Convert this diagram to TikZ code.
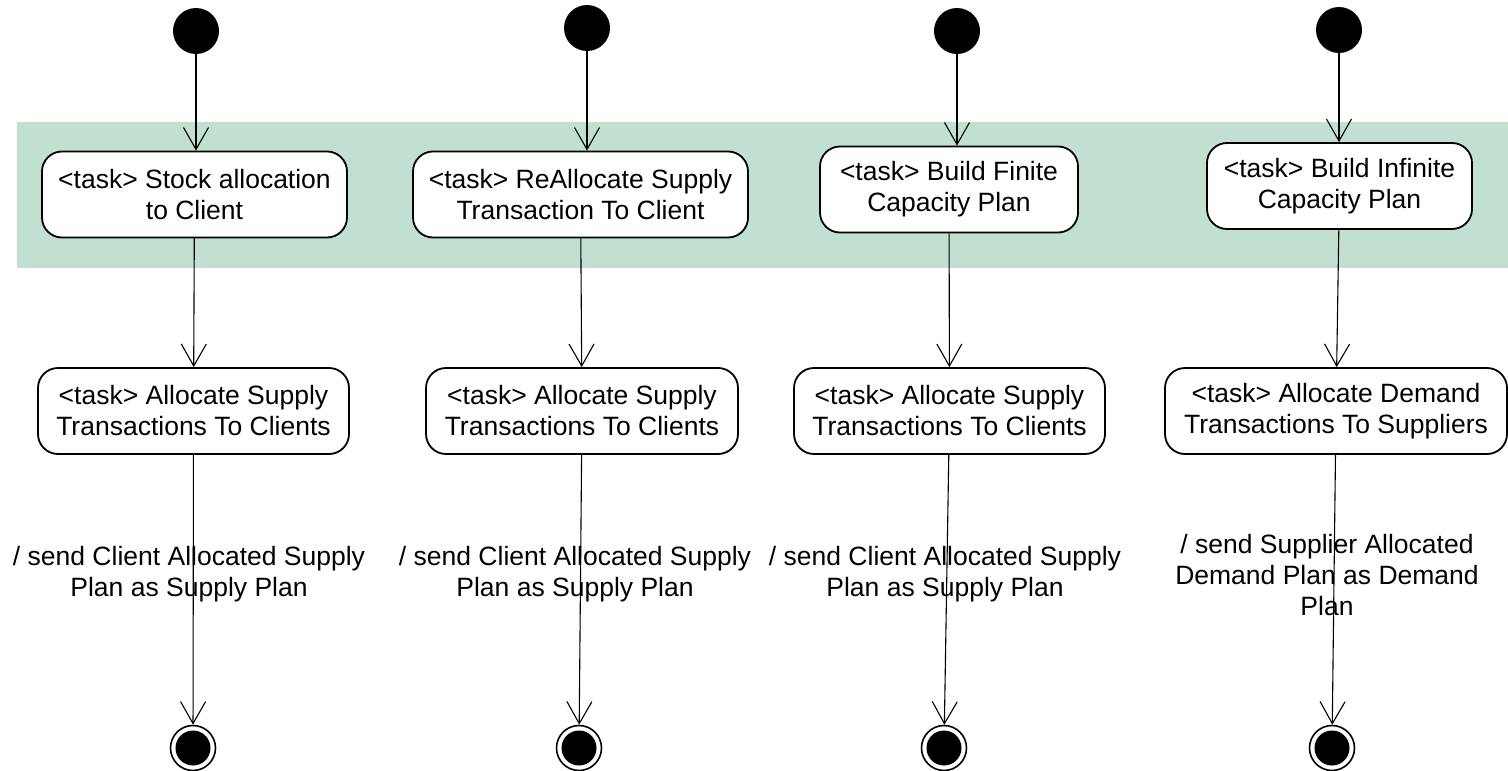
\documentclass[tikz,border=0pt]{standalone}
\usepackage{fontspec}
\setmainfont{Liberation Sans}
\usetikzlibrary{arrows.meta}
\definecolor{band}{RGB}{194,224,210}
\begin{document}
\begin{tikzpicture}[x=1pt,y=-1pt,
  every node/.style={font=\fontsize{26.5pt}{31pt}\selectfont},
  task/.style={draw=black, line width=1.8pt, rounded corners=20pt, fill=white,
     align=center, inner sep=0pt, minimum height=86pt},
  startnode/.style={circle, fill=black, minimum size=46pt, inner sep=0pt},
  endnode/.style={circle, draw=black, line width=1.6pt, fill=white, minimum size=45pt, inner sep=0pt,
     path picture={\fill[black] (path picture bounding box.center) circle (17.5pt);}},
  lbl/.style={align=center, inner sep=0pt},
  flow/.style={line width=1.1pt, -{Straight Barb[length=22pt, width=25pt, line width=1.1pt]}}
]
\useasboundingbox (0,0) rectangle (1508,771);
\fill[band] (17,122) rectangle (1508,268);

% start nodes
\node[startnode] (s1) at (196,31) {};
\node[startnode] (s2) at (587,28) {};
\node[startnode] (s3) at (957,31) {};
\node[startnode] (s4) at (1339,30) {};

% first tasks
\node[task, minimum width=305pt] (a1) at (194.5,194.5) {<task> Stock allocation\\to Client};
\node[task, minimum width=335pt] (a2) at (580.5,194.5) {<task> ReAllocate Supply\\Transaction To Client};
\node[task, minimum width=258pt] (a3) at (949,189.5) {<task> Build Finite\\Capacity Plan};
\node[task, minimum width=265pt] (a4) at (1339.5,186) {<task> Build Infinite\\Capacity Plan};

% second tasks
\node[task, minimum width=311pt] (b1) at (193.5,411) {<task> Allocate Supply\\Transactions To Clients};
\node[task, minimum width=312pt] (b2) at (582,411) {<task> Allocate Supply\\Transactions To Clients};
\node[task, minimum width=311pt] (b3) at (949.5,411) {<task> Allocate Supply\\Transactions To Clients};
\node[task, minimum width=342pt] (b4) at (1336,411) {<task> Allocate Demand\\Transactions To Suppliers};

% end nodes
\node[endnode] (e1) at (193,748) {};
\node[endnode] (e2) at (579,748) {};
\node[endnode] (e3) at (944,748) {};
\node[endnode] (e4) at (1332,748) {};

% labels
\node[lbl] (l1) at (189,574) {/ send Client Allocated Supply\\Plan as Supply Plan};
\node[lbl] (l2) at (575,574) {/ send Client Allocated Supply\\Plan as Supply Plan};
\node[lbl] (l3) at (945,574) {/ send Client Allocated Supply\\Plan as Supply Plan};
\node[lbl] (l4) at (1327,575) {/ send Supplier Allocated\\Demand Plan as Demand\\Plan};

% connectors
\foreach \i in {1,2,3,4} {
  \draw[flow] (s\i) -- (s\i |- a\i.north);
  \draw[flow] (a\i) -- (b\i);
  \draw[flow] (b\i) -- (e\i);
}
\end{tikzpicture}
\end{document}
